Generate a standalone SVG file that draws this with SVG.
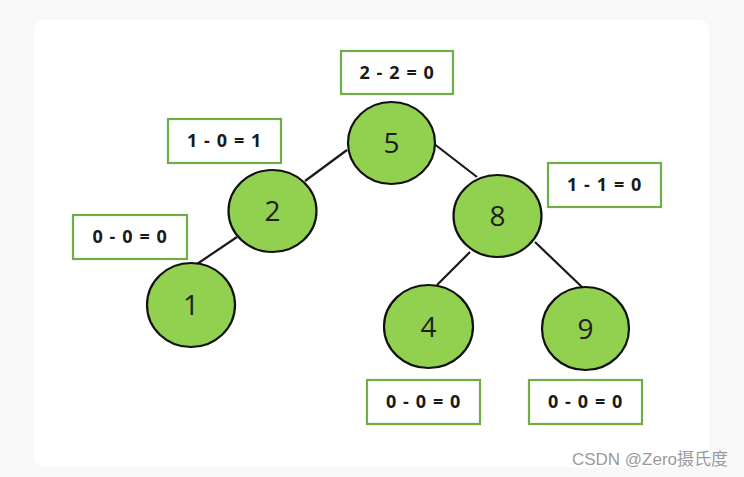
<svg xmlns="http://www.w3.org/2000/svg" width="744" height="477" viewBox="0 0 744 477">
<style>
.node ellipse{fill:#92d050;stroke:#111;stroke-width:2.2}
.node text{font-family:"Open Sans","Noto Sans",sans-serif;font-size:28px;fill:#1e1e1e;text-anchor:middle}
.lbl rect{fill:#fff;stroke:#70ad47;stroke-width:2.2}
.lbl text{font-family:"Open Sans","Noto Sans",sans-serif;font-weight:bold;font-size:18px;letter-spacing:0.6px;word-spacing:1px;fill:#1a1a1a;text-anchor:middle}
#edges line{stroke:#1a1a1a;stroke-width:2.2}
</style>
<rect width="744" height="477" fill="#f8f8f8"/>
<rect x="34" y="20" width="675" height="447" rx="10" fill="#fff"/>
<g id="edges">
<line x1="347" y1="150" x2="305" y2="181"/>
<line x1="433" y1="143" x2="477" y2="177"/>
<line x1="237" y1="237" x2="197" y2="264"/>
<line x1="470" y1="252" x2="437" y2="285"/>
<line x1="535" y1="242" x2="583" y2="288"/>
</g>
<g id="node5" class="node"><ellipse cx="391.5" cy="143" rx="43.5" ry="41"/><text x="391.5" y="153">5</text></g>
<g id="node2" class="node"><ellipse cx="272.5" cy="211" rx="44" ry="41"/><text x="272.5" y="221">2</text></g>
<g id="node8" class="node"><ellipse cx="497.5" cy="216" rx="44" ry="41"/><text x="497.5" y="226">8</text></g>
<g id="node1" class="node"><ellipse cx="191" cy="305" rx="44" ry="42"/><text x="191" y="315">1</text></g>
<g id="node4" class="node"><ellipse cx="428.5" cy="326.5" rx="44.5" ry="41.5"/><text x="428.5" y="336.5">4</text></g>
<g id="node9" class="node"><ellipse cx="585.5" cy="328.5" rx="43.5" ry="41.5"/><text x="585.5" y="338.5">9</text></g>
<g id="lbl5" class="lbl"><rect x="341" y="51" width="112" height="43"/><text x="397" y="79">2 - 2 = 0</text></g>
<g id="lbl2" class="lbl"><rect x="168" y="119" width="113" height="44"/><text x="224.5" y="147">1 - 0 = 1</text></g>
<g id="lbl8" class="lbl"><rect x="548" y="163" width="113" height="44"/><text x="604.5" y="191">1 - 1 = 0</text></g>
<g id="lbl1" class="lbl"><rect x="73" y="215" width="114" height="44"/><text x="130" y="243">0 - 0 = 0</text></g>
<g id="lbl4" class="lbl"><rect x="367" y="380" width="113" height="44"/><text x="423.5" y="408">0 - 0 = 0</text></g>
<g id="lbl9" class="lbl"><rect x="529" y="380" width="113" height="44"/><text x="585.5" y="408">0 - 0 = 0</text></g>
<text x="728" y="465" text-anchor="end" font-family="'Liberation Sans','Noto Sans CJK SC',sans-serif" font-size="17" fill="#9a9a9a">CSDN @Zero摄氏度</text>
</svg>
